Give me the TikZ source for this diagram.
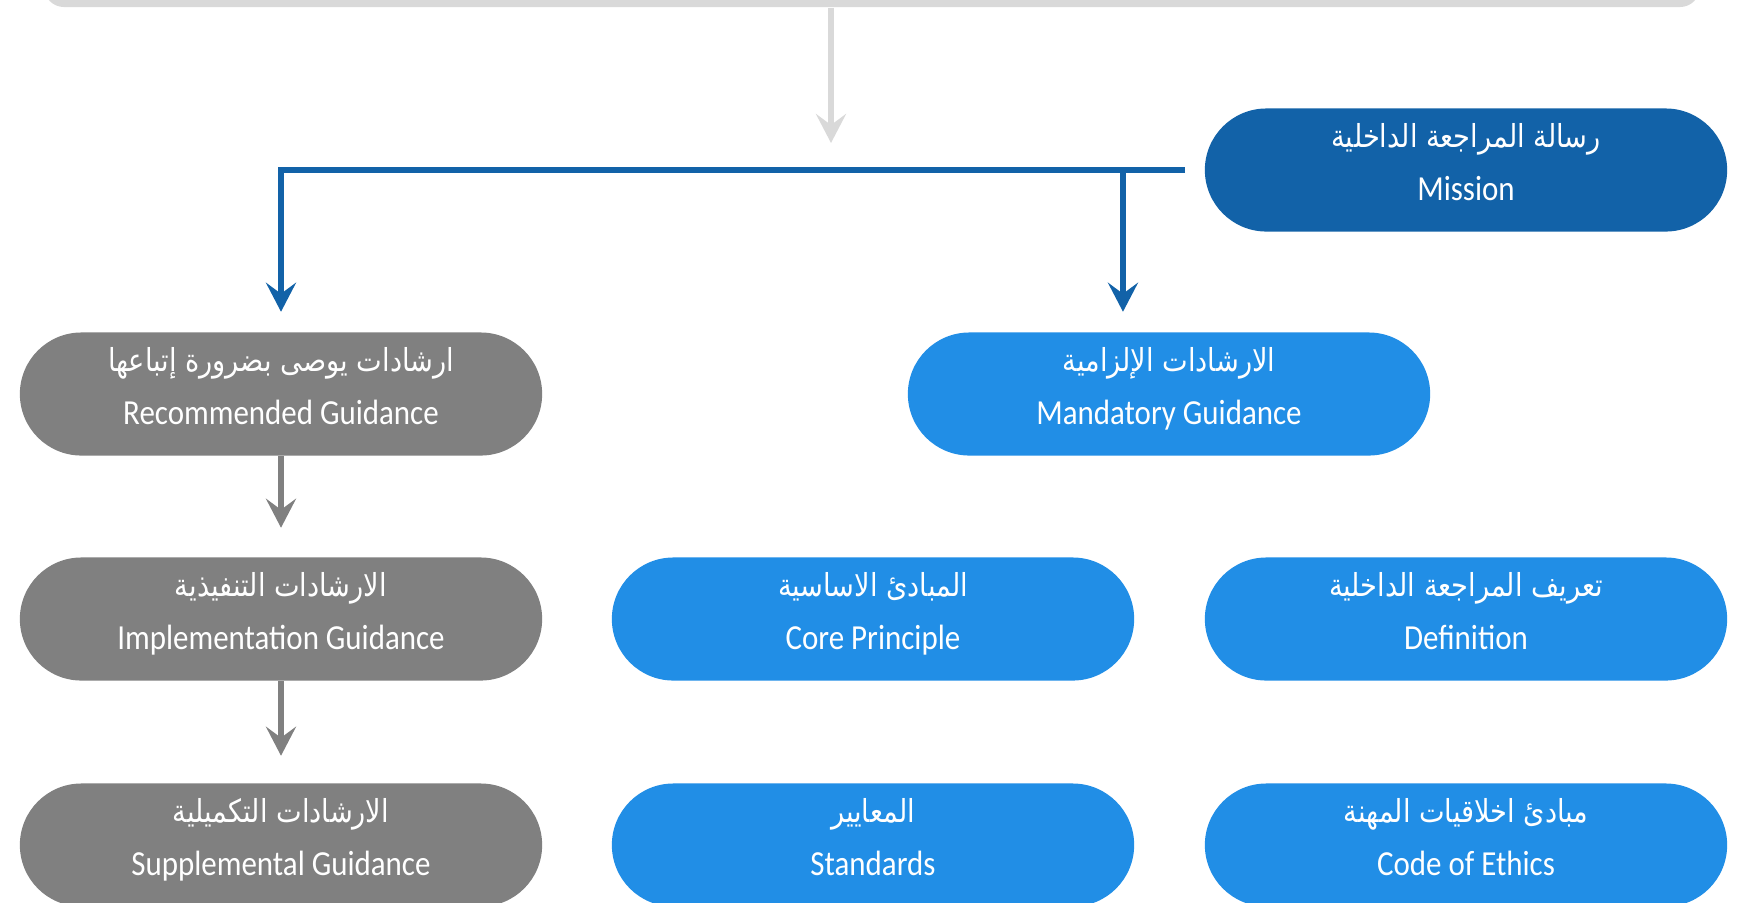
\documentclass[tikz,border=0pt]{standalone}
\usepackage{fontspec}
\setmainfont{Carlito}[FakeStretch=0.88]
\newfontfamily\arabicfont[Script=Arabic,FakeStretch=0.86]{DejaVu Sans}
\TeXXeTstate=1
\usetikzlibrary{arrows.meta,positioning}

\definecolor{missionblue}{HTML}{1262A8}
\definecolor{guideblue}{HTML}{218EE6}
\definecolor{guidegray}{HTML}{808080}
\definecolor{bargray}{HTML}{D9D9D9}

\newcommand{\twoline}[2]{{\arabicfont\fontsize{9}{15}\selectfont\beginR #1\endR}\\#2}

\begin{document}
\begin{tikzpicture}[
    x=0.01cm, y=-0.01cm,
    gbox/.style={rectangle, rounded corners=0.615cm, fill=#1, text=white, minimum width=5.22cm, minimum height=1.23cm, text depth=0.16cm, align=center, font=\fontsize{10}{15}\selectfont},
    flow/.style={draw=#1, line width=1.45pt, -{Stealth[length=0.29cm,width=0.3cm,inset=0.11cm]}}
]
    \useasboundingbox (0,0) rectangle (1739,902);
    \clip (0,0) rectangle (1739,902);

    \node[rectangle, rounded corners=0.2cm, fill=bargray, minimum width=16.55cm, minimum height=0.8cm] (header) at (872,-33) {};
    \coordinate (drop) at (831,143);

    \node[gbox=missionblue] (mission) at (1466,170) {\twoline{رسالة المراجعة الداخلية}{Mission}};

    \node[gbox=guidegray] (recomm) at (281,394) {\twoline{ارشادات يوصى بضرورة إتباعها}{Recommended Guidance}};
    \node[gbox=guideblue] (mandatory) at (1169,394) {\twoline{الارشادات الإلزامية}{Mandatory Guidance}};

    \node[gbox=guidegray] (implement) at (281,619) {\twoline{الارشادات التنفيذية}{Implementation Guidance}};
    \node[gbox=guideblue] (core) at (873,619) {\twoline{المبادئ الاساسية}{Core Principle}};
    \node[gbox=guideblue] (definition) at (1466,619) {\twoline{تعريف المراجعة الداخلية}{Definition}};

    \node[gbox=guidegray] (supplement) at (281,845) {\twoline{الارشادات التكميلية}{Supplemental Guidance}};
    \node[gbox=guideblue] (standards) at (873,845) {\twoline{المعايير}{Standards}};
    \node[gbox=guideblue] (ethics) at (1466,845) {\twoline{مبادئ اخلاقيات المهنة}{Code of Ethics}};

    \draw[flow=bargray] (header.south -| drop) -- (drop);

    \draw[flow=missionblue, shorten >=0.2cm] ([xshift=-0.19cm]mission.west) -| (recomm.north);
    \draw[flow=missionblue, shorten >=0.2cm] ([xshift=-0.46cm]mandatory.north |- mission.west) -- ([xshift=-0.46cm]mandatory.north);

    \draw[flow=guidegray, shorten >=0.29cm] (recomm) -- (implement);
    \draw[flow=guidegray, shorten >=0.27cm] (implement) -- (supplement);
\end{tikzpicture}
\end{document}
